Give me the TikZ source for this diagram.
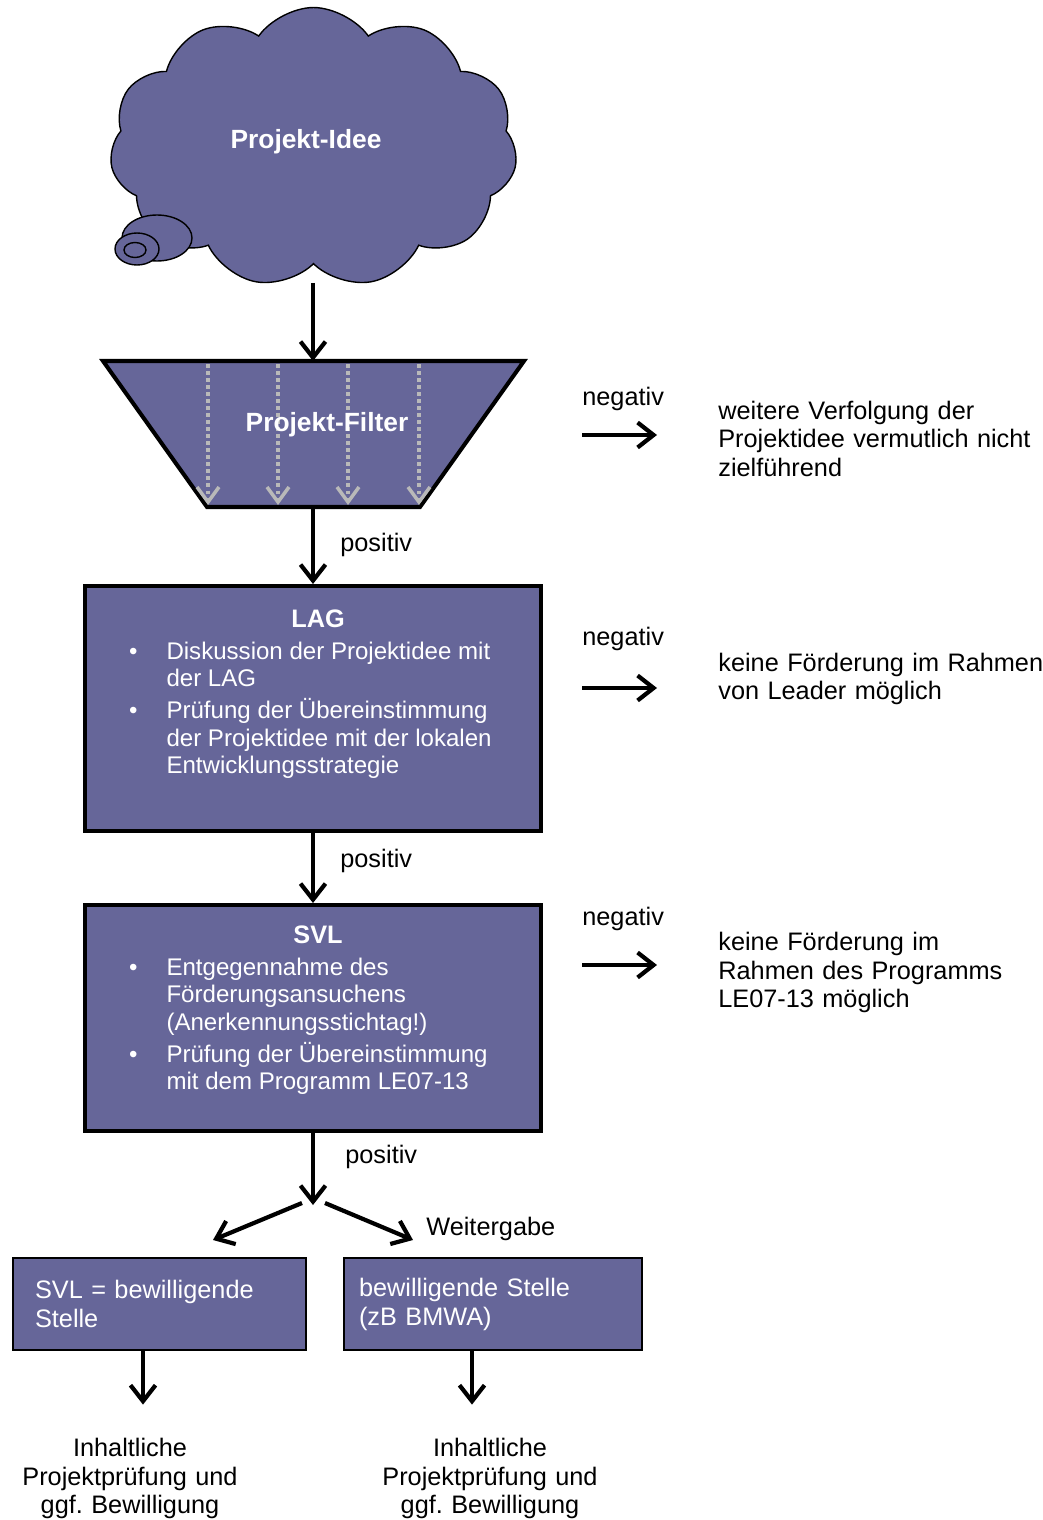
\documentclass[tikz,border=0pt]{standalone}
\usepackage{fontspec}
\setmainfont{Liberation Sans}
\usetikzlibrary{arrows.meta,shapes.symbols}
\definecolor{ideablue}{RGB}{102,102,153}
\definecolor{filtergray}{RGB}{185,185,185}
\newcommand{\txtmain}{\fontsize{14.4}{16.5}\selectfont}
\newcommand{\txtbox}{\fontsize{13.7}{15.65}\selectfont}
\newcommand{\bulitem}[1]{\par\raggedright\leftskip=1.64cm\noindent\llap{\textbullet\hspace{0.58cm}}#1}
\tikzset{
	arr/.style={line width=2.4pt, -{Straight Barb[length=0.32cm,width=0.5cm]}},
	dotarr/.style={filtergray, line width=2pt, dash pattern=on 2pt off 2pt, -{Straight Barb[length=0.3cm,width=0.44cm]}},
	lbl/.style={font=\txtmain, inner sep=0pt},
	stepbox/.style={draw, fill=ideablue, line width=2.3pt, text=white, inner sep=0pt, minimum width=9.14cm},
	endbox/.style={draw, fill=ideablue, line width=0.7pt, text=white, font=\txtmain, align=left, minimum height=1.84cm},
	bubble/.style={draw, fill=ideablue, line width=0.8pt}
}

\begin{document}
\frenchspacing
\begin{tikzpicture}[x=0.02cm, y=-0.02cm]
		%%%%% START %%%%%
		\useasboundingbox (0,0) rectangle (1042,1520);
		
		\node[cloud, draw, fill=ideablue, line width=0.8pt, cloud puffs=11, cloud puff arc=110, aspect=1.5,
			minimum width=8.15cm, minimum height=5.6cm, inner sep=0pt, text=white, text depth=0.36cm,
			font=\fontsize{15}{18}\selectfont\bfseries] (idea) at (313.5,147.5) {Projekt-Idee\hspace*{0.3cm}};
		\draw[bubble] (157,238) ellipse [x radius=35, y radius=23];
		\draw[bubble] (137,249) ellipse [x radius=22, y radius=16];
		\draw[bubble] (135,250) ellipse [x radius=11, y radius=7.5];
		\coordinate (ideabot) at (313,283);
		
		\draw[fill=ideablue, line width=2.3pt, line join=miter] (103,361) -- (524,361) -- (420,507) -- (207,507) -- cycle;
		\coordinate (filtertop) at (313,361);
		\coordinate (filterbot) at (313,507);
		\foreach \x in {208,278,348,419}
			\draw[dotarr] (\x,364) -- (\x,505);
		\node[text=white, inner sep=0pt, font=\fontsize{15}{18}\selectfont\bfseries] (filter) at (327,425) {Projekt-Filter};
		
		\node[stepbox, minimum height=4.9cm] (lag) at (313,708.5) {\parbox[c][4.9cm][t]{9.14cm}{\txtbox\setlength\parskip{0.09cm}%
			{\centering\fontsize{14.4}{16.5}\selectfont\bfseries\rule{0pt}{0.82cm}\hspace*{0.2cm}LAG\par}%
			\bulitem{Diskussion der Projektidee mit\\der LAG}%
			\bulitem{Prüfung der Übereinstimmung\\der Projektidee mit der lokalen\\Entwicklungsstrategie}\par}};
		
		\node[stepbox, minimum height=4.52cm] (svl) at (313,1018) {\parbox[c][4.52cm][t]{9.14cm}{\txtbox\setlength\parskip{0.09cm}%
			{\centering\fontsize{14.4}{16.5}\selectfont\bfseries\rule{0pt}{0.76cm}\hspace*{0.2cm}SVL\par}%
			\bulitem{Entgegennahme des\\Förderungsansuchens\\(Anerkennungsstichtag!)}%
			\bulitem{Prüfung der Übereinstimmung\\mit dem Programm LE07-13}\par}};
		
		\draw[arr] (ideabot) -- (filtertop);
		\draw[arr] (filterbot) -- (lag.north);
		\node[lbl, anchor=base west] (pos1) at (340,551) {positiv};
		\draw[arr] (lag.south) -- (svl.north);
		\node[lbl, anchor=base west] (pos2) at (340,867) {positiv};
		
		\coordinate (split) at (313,1205);
		\draw[arr] (svl.south) -- (split);
		\node[lbl, anchor=base west] (pos3) at (345,1163) {positiv};
		\coordinate (splitl) at (302,1203);
		\coordinate (splitr) at (325,1203);
		\coordinate (endl) at (213,1240);
		\coordinate (endr) at (413,1240);
		\draw[arr] (splitl) -- (endl);
		\draw[arr] (splitr) -- (endr);
		\node[lbl, anchor=base west] (weiter) at (426,1235) {Weitergabe};
		
		\node[endbox, minimum width=5.86cm, text width=4.98cm, inner xsep=0.44cm] (svlstelle) at (159.5,1304) {SVL = bewilligende\\Stelle};
		\node[endbox, minimum width=5.96cm, text width=5.36cm, inner xsep=0.3cm] (bmwa) at (493,1304) {bewilligende Stelle\\(zB BMWA)};
		
		\node[lbl, text width=5.4cm, align=center, anchor=base] (pruef1) at (130,1456) {Inhaltliche\\Projektprüfung und\\ggf. Bewilligung};
		\node[lbl, text width=5.4cm, align=center, anchor=base] (pruef2) at (490,1456) {Inhaltliche\\Projektprüfung und\\ggf. Bewilligung};
		\draw[arr] ([xshift=-0.33cm]svlstelle.south) -- ++(0,54);
		\draw[arr] ([xshift=-0.42cm]bmwa.south) -- ++(0,54);
		
		% negativ-Zweige
		\node[lbl, anchor=base west] (neg1) at (582,405) {negativ};
		\coordinate (neg1a) at (582,435);
		\coordinate (neg1b) at (657,435);
		\draw[arr] (neg1a) -- (neg1b);
		\node[lbl, text width=6.6cm, align=left, anchor=base west] (out1) at (718,419) {weitere Verfolgung der\\Projektidee vermutlich nicht\\zielführend};
		
		\node[lbl, anchor=base west] (neg2) at (582,645) {negativ};
		\coordinate (neg2a) at (582,688);
		\coordinate (neg2b) at (657,688);
		\draw[arr] (neg2a) -- (neg2b);
		\node[lbl, text width=6.6cm, align=left, anchor=base west] (out2) at (718,671) {keine Förderung im Rahmen\\von Leader möglich};
		
		\node[lbl, anchor=base west] (neg3) at (582,925) {negativ};
		\coordinate (neg3a) at (582,965);
		\coordinate (neg3b) at (657,965);
		\draw[arr] (neg3a) -- (neg3b);
		\node[lbl, text width=6.6cm, align=left, anchor=base west] (out3) at (718,950) {keine Förderung im\\Rahmen des Programms\\LE07-13 möglich};
		
		%%%%% END %%%%%
	\end{tikzpicture}
\end{document}
